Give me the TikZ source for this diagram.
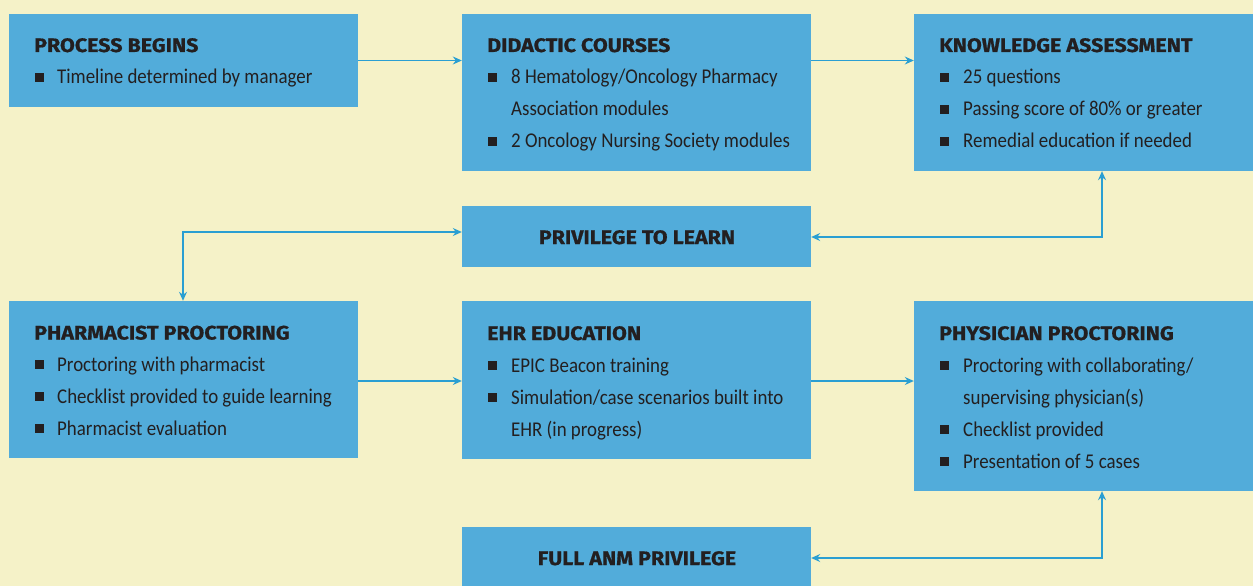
\documentclass[tikz,border=0pt]{standalone}
\usepackage{fontspec}
\usetikzlibrary{arrows.meta}
\newfontfamily\bodyfont[FakeStretch=0.9]{Carlito}
\newfontfamily\headfont[FakeStretch=1.1,FakeBold=0.8]{Fira Sans}
\definecolor{bg}{HTML}{F5F2C8}
\definecolor{boxc}{HTML}{52ACDA}
\definecolor{txt}{HTML}{231F20}
\definecolor{arrc}{HTML}{2A9FD2}
\tikzset{
  box/.style={fill=boxc,draw=none,inner sep=0pt},
  hd/.style={anchor=base west,inner sep=0pt,text=txt,font=\headfont\bfseries\fontsize{19.5}{19.5}\selectfont},
  bt/.style={anchor=base west,inner sep=0pt,text=txt,font=\bodyfont\fontsize{21}{21}\selectfont},
  sq/.style={fill=txt,inner sep=0pt,minimum size=9pt},
  arr/.style={draw=arrc,line width=1.2pt,-{Stealth[length=9pt,width=8pt,inset=3pt]}},
  darr/.style={draw=arrc,line width=1.2pt,{Stealth[length=9pt,width=8pt,inset=3pt]}-{Stealth[length=9pt,width=8pt,inset=3pt]}}
}
\begin{document}
\begin{tikzpicture}[x=1pt,y=-1pt]
\fill[bg] (0,0) rectangle (1253,586);
\useasboundingbox (0,0) rectangle (1253,586);
% boxes
\node[box,minimum width=349pt,minimum height=93pt] (pb) at (183.5,60.5) {};
\node[box,minimum width=349pt,minimum height=157pt] (dc) at (636.5,92.5) {};
\node[box,minimum width=339pt,minimum height=157pt] (ka) at (1083.5,92.5) {};
\node[box,minimum width=349pt,minimum height=61pt] (ptl) at (636.5,236.5) {};
\node[box,minimum width=349pt,minimum height=157pt] (ph) at (183.5,379.5) {};
\node[box,minimum width=349pt,minimum height=158pt] (ehr) at (636.5,380) {};
\node[box,minimum width=339pt,minimum height=190pt] (pp) at (1083.5,396) {};
\node[box,minimum width=349pt,minimum height=59pt] (fa) at (636.5,556.5) {};
\node[hd,anchor=base] (ptlh) at (637,244) {PRIVILEGE TO LEARN};
\node[hd,anchor=base] (fah) at (637,565) {FULL ANM PRIVILEGE};
% process begins
\node[hd] (pbh) at (34,52) {PROCESS BEGINS};
\node[sq] (pbs1) at (39,77.5) {};
\node[bt] (pbt1) at (57,83.5) {Timeline determined by manager};
% didactic
\node[hd] (dch) at (487,52) {DIDACTIC COURSES};
\node[sq] (dcs1) at (492,77.5) {};
\node[bt] (dct1) at (511,83.5) {8 Hematology/Oncology Pharmacy};
\node[bt] (dct1b) at (511,115.5) {Association modules};
\node[sq] (dcs2) at (492,141.5) {};
\node[bt] (dct2) at (511,147.5) {2 Oncology Nursing Society modules};
% knowledge
\node[hd] (kah) at (939,52) {KNOWLEDGE ASSESSMENT};
\node[sq] (kas1) at (944,77.5) {};
\node[bt] (kat1) at (963,83.5) {25 questions};
\node[sq] (kas2) at (944,109.5) {};
\node[bt] (kat2) at (963,115.5) {Passing score of 80\% or greater};
\node[sq] (kas3) at (944,141.5) {};
\node[bt] (kat3) at (963,147.5) {Remedial education if needed};
% pharmacist
\node[hd] (phh) at (34,339.5) {PHARMACIST PROCTORING};
\node[sq] (phs1) at (39,364.5) {};
\node[bt] (pht1) at (57,371) {Proctoring with pharmacist};
\node[sq] (phs2) at (39,396.5) {};
\node[bt] (pht2) at (57,403) {Checklist provided to guide learning};
\node[sq] (phs3) at (39,428.5) {};
\node[bt] (pht3) at (57,435) {Pharmacist evaluation};
% EHR
\node[hd] (ehrh) at (487,340) {EHR EDUCATION};
\node[sq] (ehrs1) at (492,365.5) {};
\node[bt] (ehrt1) at (511,372) {EPIC Beacon training};
\node[sq] (ehrs2) at (492,397.5) {};
\node[bt] (ehrt2) at (511,404) {Simulation/case scenarios built into};
\node[bt] (ehrt2b) at (511,436) {EHR (in progress)};
% physician
\node[hd] (pph) at (939,340) {PHYSICIAN PROCTORING};
\node[sq] (pps1) at (944,365.5) {};
\node[bt] (ppt1) at (963,372) {Proctoring with collaborating/};
\node[bt] (ppt1b) at (963,404) {supervising physician(s)};
\node[sq] (pps2) at (944,429.5) {};
\node[bt] (ppt2) at (963,436) {Checklist provided};
\node[sq] (pps3) at (944,461.5) {};
\node[bt] (ppt3) at (963,468) {Presentation of 5 cases};
% coordinates
\coordinate (c1) at (1102,237);
\coordinate (c2) at (183,232);
\coordinate (c3) at (1102,558);
% connectors
\draw[arr] (pb.east) -- (dc.west |- pb.east);
\draw[arr] (dc.east |- pb.east) -- (ka.west |- pb.east);
\draw[darr] (ptl.east |- c1) -- (c1) -- (c1 |- ka.south);
\draw[darr] (ph.north -| c2) -- (c2) -- (ptl.west |- c2);
\draw[arr] (ph.east |- 0,381) -- (ehr.west |- 0,381);
\draw[arr] (ehr.east |- 0,381) -- (pp.west |- 0,381);
\draw[darr] (fa.east |- c3) -- (c3) -- (c3 |- pp.south);
\end{tikzpicture}
\end{document}
